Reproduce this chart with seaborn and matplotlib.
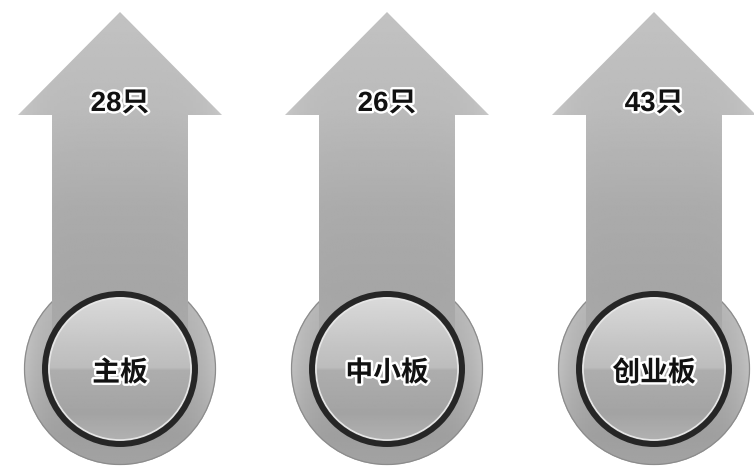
import numpy as np
import matplotlib
matplotlib.use("Agg")
import matplotlib.pyplot as plt
import matplotlib.patches as mpatches
import matplotlib.patheffects as pe
import seaborn as sns

# Datos del gráfico
tableros = ["主板", "中小板", "创业板"]
cantidades = [28, 26, 43]
etiquetas = [f"{c}只" for c in cantidades]

sns.set_theme(style="white")
plt.rcParams["font.family"] = ["Noto Sans CJK SC", "DejaVu Sans"]

# Escala: 1 unidad de datos = 267 px, las categorías quedan en x = 0, 1, 2
PX = 1 / 267.0

fig = plt.figure(figsize=(7.54, 4.68), dpi=100)
ax = fig.add_axes([0, 0, 1, 1])
ax.set_xlim(-120 * PX, (754 - 120) * PX)
ax.set_ylim(468 * PX, 0)
ax.axis("off")


def gradiente(ax, patch, x0, x1, y0, y1, colores, stops, horiz=None):
    # imagen con gradiente vertical, recortada a la forma
    n = 200
    ys = np.linspace(0, 1, n)
    vals = np.interp(ys, stops, colores)
    img = np.tile(vals[:, None], (1, 60))
    if horiz is not None:
        xs = np.linspace(-1, 1, 60)
        img = img + horiz * (np.abs(xs) ** 6)[None, :]
    img = np.clip(img, 0, 1)
    im = ax.imshow(img, cmap="gray", vmin=0, vmax=1, extent=(x0, x1, y1, y0),
                   aspect="auto", interpolation="bilinear", zorder=patch.get_zorder())
    im.set_clip_path(patch)


for i, (tablero, etiqueta) in enumerate(zip(tableros, etiquetas)):
    cx = i
    cy = 369 * PX

    # disco exterior (queda detrás de la flecha)
    ext = mpatches.Circle((cx, cy), 96 * PX, facecolor="none",
                          edgecolor="none", zorder=1)
    ax.add_patch(ext)
    gradiente(ax, ext, cx - 96 * PX, cx + 96 * PX, cy - 96 * PX, cy + 96 * PX,
              [0.72, 0.68, 0.62, 0.64], [0, 0.4, 0.85, 1], horiz=0.08)
    ax.add_patch(mpatches.Circle((cx, cy), 95.5 * PX, facecolor="none",
                                 edgecolor="#8c8c8c", lw=0.9, zorder=1.5))

    # flecha
    pts = np.array([(0, 12), (102, 115), (68, 115), (68, 340), (-68, 340),
                    (-68, 115), (-102, 115)], dtype=float)
    pts[:, 0] = cx + pts[:, 0] * PX
    pts[:, 1] = pts[:, 1] * PX
    flecha = mpatches.Polygon(pts, closed=True, facecolor="none",
                              edgecolor="none", zorder=2)
    ax.add_patch(flecha)
    gradiente(ax, flecha, cx - 102 * PX, cx + 102 * PX, 12 * PX, 340 * PX,
              [0.76, 0.73, 0.67, 0.65, 0.66], [0, 0.3, 0.6, 0.85, 1],
              horiz=0.05)

    # disco interior
    inte = mpatches.Circle((cx, cy), 74 * PX, facecolor="none",
                           edgecolor="none", zorder=4)
    ax.add_patch(inte)
    gradiente(ax, inte, cx - 74 * PX, cx + 74 * PX, cy - 74 * PX, cy + 74 * PX,
              [0.86, 0.78, 0.74, 0.68, 0.64, 0.70], [0, 0.3, 0.49, 0.51, 0.8, 1])
    # borde blanco y anillo oscuro
    ax.add_patch(mpatches.Circle((cx, cy), 71 * PX, facecolor="none",
                                 edgecolor="#e6e6e6", lw=1.2, zorder=5))
    ax.add_patch(mpatches.Circle((cx, cy), 75 * PX, facecolor="none",
                                 edgecolor="#262626", lw=4.3, zorder=6))

    # textos
    efecto = [pe.withStroke(linewidth=3.5, foreground="white")]
    ax.text(cx, 104 * PX, etiqueta, ha="center", va="center", fontsize=20,
            fontweight="bold", color="#111111", path_effects=efecto, zorder=7,
            family=["Liberation Sans", "Noto Sans CJK SC"])
    ax.text(cx, 373 * PX, tablero, ha="center", va="center", fontsize=20,
            fontweight="bold", color="#111111", path_effects=efecto, zorder=7)

fig.savefig("out.png", dpi=100, facecolor="white")
